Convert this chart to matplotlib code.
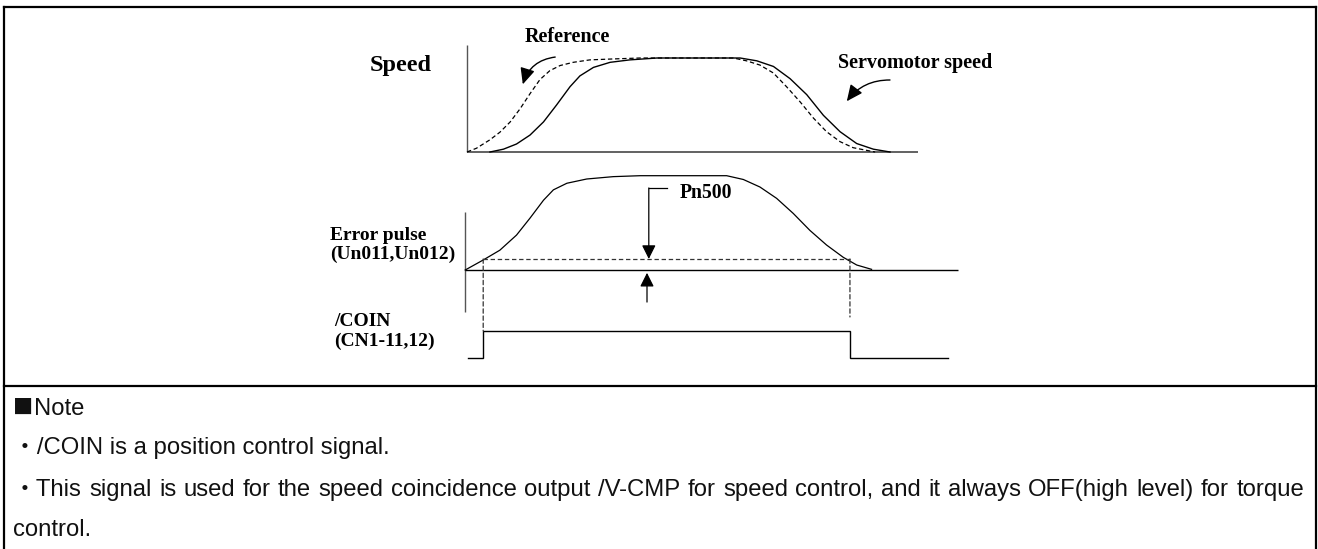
import matplotlib
matplotlib.use("Agg")
import matplotlib.pyplot as plt
from matplotlib.patches import ConnectionPatch

W, H = 1318, 549
DPI = 100

# ---- speed profile (normalised speed vs. time) ----
ref_t = [0.0, 2.1, 5.1, 7.3, 9.6, 11.8, 14.0, 16.2, 18.4, 20.7, 23.6, 27.3, 32.5, 38.5,
         59.2, 62.1, 65.1, 68.1, 71.0, 74.0, 77.0, 79.9, 82.9, 85.8, 89.6, 90.7]
ref_v = [0.0, 0.04, 0.13, 0.21, 0.32, 0.46, 0.62, 0.77, 0.865, 0.92, 0.954, 0.98, 0.99, 1.0,
         1.0, 0.97, 0.925, 0.84, 0.695, 0.535, 0.36, 0.216, 0.11, 0.046, 0.01, 0.0]

motor_t = [5.1, 8.1, 11.0, 14.0, 17.0, 19.9, 22.9, 25.1, 28.1, 31.8, 36.2, 42.2,
           60.7, 64.4, 68.1, 71.8, 75.5, 79.2, 82.9, 86.6, 90.3, 94.0]
motor_v = [0.0, 0.03, 0.085, 0.18, 0.32, 0.5, 0.695, 0.81, 0.90, 0.954, 0.98, 1.0,
           1.0, 0.97, 0.91, 0.78, 0.61, 0.39, 0.216, 0.09, 0.03, 0.0]

# ---- position error pulses (normalised) ----
err_t = [-0.4, 3.6, 7.3, 11.0, 14.0, 17.0, 19.2, 22.2, 26.6, 32.5, 38.5,
         57.7, 61.4, 65.1, 68.8, 72.5, 76.2, 79.9, 83.6, 86.6, 89.9]
err_v = [0.0, 0.106, 0.21, 0.37, 0.55, 0.74, 0.85, 0.92, 0.965, 0.99, 1.0,
         1.0, 0.96, 0.88, 0.76, 0.60, 0.42, 0.265, 0.135, 0.053, 0.007]

# positioning completed width (Pn500) and /COIN output
pn500 = 0.117
coin_on_t = 3.6
coin_off_t = 85.1
coin_t = [0.2, coin_on_t, coin_on_t, coin_off_t, coin_off_t, 106.9]
coin_v = [0, 0, 1, 1, 0, 0]

speed_label = "Speed"
ref_label = "Reference"
motor_label = "Servomotor speed"
err_label = ["Error pulse", "(Un011,Un012)"]
coin_label = ["/COIN", "(CN1-11,12)"]
pn_label = "Pn500"
note_mark = "\u25a0"
note_title = "Note"
note_item1 = "\u30fb/COIN is a position control signal."
note_item2 = ("\u30fbThis signal is used for the speed coincidence output /V-CMP for speed "
              "control, and it always OFF(high level) for torque")
note_item2_tail = "control."

fig = plt.figure(figsize=(W / DPI, H / DPI), dpi=DPI)
fig.patch.set_facecolor("white")

T0_PX = 467.0   # pixel column of t = 0
T_SCALE = 4.5   # pixels per time unit


def lane_axes(x0, y0, x1, y1, zero_px, unit_px):
    """Axes over a pixel box (top-left origin) with a time x-axis and a value y-axis."""
    ax = fig.add_axes([x0 / W, 1 - y1 / H, (x1 - x0) / W, (y1 - y0) / H])
    ax.set_xlim((x0 - T0_PX) / T_SCALE, (x1 - T0_PX) / T_SCALE)
    ax.set_ylim((zero_px - y1) / unit_px, (zero_px - y0) / unit_px)
    ax.set_axis_off()
    return ax


axis_col = "#555555"
serif_bold = dict(family="Liberation Serif", fontweight="bold", color="black")
dash = (0, (3.5, 2.2))

# ---------------- speed ----------------
ax_s = lane_axes(440, 30, 975, 160, 152, 94)
ax_s.plot([0, 0], [0, 1.14], color=axis_col, lw=1.0, solid_capstyle="butt")
ax_s.plot([0, 100.2], [0, 0], color=axis_col, lw=1.3, solid_capstyle="butt")
ax_s.plot(ref_t, ref_v, color="black", lw=0.9, ls=dash)
ax_s.plot(motor_t, motor_v, color="black", lw=1.0)

arrow_kw = dict(arrowstyle="-|>,head_length=0.7,head_width=0.32", color="black",
                lw=1.0, mutation_scale=14, shrinkA=0, shrinkB=0)
ax_s.annotate("", xy=(12.4, 0.72), xytext=(19.6, 1.01),
              arrowprops=dict(connectionstyle="arc3,rad=0.32", **arrow_kw))
ax_s.annotate("", xy=(84.4, 0.54), xytext=(94.0, 0.766),
              arrowprops=dict(connectionstyle="arc3,rad=0.25", **arrow_kw))

# ---------------- error pulses ----------------
ax_e = lane_axes(440, 160, 975, 320, 270, 94.3)
ax_e.plot([-0.4, -0.4], [0.615, -0.445], color=axis_col, lw=1.0, solid_capstyle="butt")
ax_e.plot([-0.4, 109.1], [0, 0], color="black", lw=1.0, solid_capstyle="butt")
ax_e.plot(err_t, err_v, color="black", lw=0.9)
ax_e.plot([coin_on_t, coin_off_t], [pn500, pn500], color="#333333", lw=0.9, ls=dash)

# Pn500 width markers
ax_e.plot([40.4, 44.4], [0.87, 0.87], color="black", lw=0.9)
head_kw = dict(arrowstyle="-|>,head_length=0.6,head_width=0.3", color="black",
               lw=0.9, mutation_scale=14, shrinkA=0, shrinkB=0)
ax_e.annotate("", xy=(40.4, pn500), xytext=(40.4, 0.87), arrowprops=head_kw)
ax_e.annotate("", xy=(40.0, -0.03), xytext=(40.0, -0.34), arrowprops=head_kw)

# ---------------- /COIN ----------------
ax_c = lane_axes(440, 320, 975, 372, 358, 27)
ax_c.plot(coin_t, coin_v, color="black", lw=1.0, solid_joinstyle="miter")

# dashed guides from the Pn500 band down to the /COIN edges
for t_edge, end_v in [(coin_on_t, 1.0), (coin_off_t, 1.52)]:
    con = ConnectionPatch(xyA=(t_edge, pn500), coordsA=ax_e.transData,
                          xyB=(t_edge, end_v), coordsB=ax_c.transData,
                          color="#333333", lw=0.9, ls=dash)
    fig.add_artist(con)


# ---------------- labels ----------------
def ftext(x, y, s, **kw):
    return fig.text(x / W, 1 - y / H, s, va="center", ha="left", **kw)


ftext(370, 66, speed_label, fontsize=17.5, **serif_bold)
ftext(525, 37, ref_label, fontsize=14.5, **serif_bold)
ftext(838, 63, motor_label, fontsize=14.5, **serif_bold)
ftext(680, 193, pn_label, fontsize=14.2, **serif_bold)
ftext(330, 235, err_label[0], fontsize=14.0, **serif_bold)
ftext(330, 254, err_label[1], fontsize=14.0, **serif_bold)
ftext(334, 322, coin_label[0], fontsize=14.0, **serif_bold)
ftext(334, 341, coin_label[1], fontsize=14.0, **serif_bold)

note_kw = dict(fontsize=17.2, family=["Liberation Sans", "Noto Sans CJK JP", "DejaVu Sans"],
               color="#111111")
NOTE_LEFT, NOTE_RIGHT = 13, 1304
renderer = fig.canvas.get_renderer()

# heading: a full-width square bullet followed by the title
mark = ftext(NOTE_LEFT, 408, note_mark, fontsize=14.5,
             family=["Noto Sans CJK JP", "DejaVu Sans"], color="#111111")
mark_w = mark.get_window_extent(renderer).width
ftext(NOTE_LEFT + mark_w + 0.5, 409, note_title, **note_kw)

ftext(NOTE_LEFT, 448, note_item1, **note_kw)
ftext(NOTE_LEFT, 530, note_item2_tail, **note_kw)

# justified paragraph line: spread the words across the full text width
words = note_item2.split(" ")
word_texts = [ftext(NOTE_LEFT, 490, w, **note_kw) for w in words]
widths = [t.get_window_extent(renderer).width for t in word_texts]
gap = (NOTE_RIGHT - NOTE_LEFT - sum(widths)) / (len(words) - 1)
x = NOTE_LEFT
for t, w in zip(word_texts, widths):
    t.set_x(x / W)
    x += w + gap

# ---------------- outer frame ----------------
ax_f = fig.add_axes([0, 0, 1, 1], zorder=-1)
ax_f.set_xlim(0, W)
ax_f.set_ylim(H, 0)
ax_f.set_axis_off()
frame_kw = dict(color="black", lw=1.6, solid_capstyle="projecting")
ax_f.plot([3.5, 3.5], [7, H + 5], **frame_kw)
ax_f.plot([1315.5, 1315.5], [7, H + 5], **frame_kw)
ax_f.plot([3.5, 1315.5], [7, 7], **frame_kw)
ax_f.plot([3.5, 1315.5], [386, 386], **frame_kw)

fig.savefig("out.png", dpi=DPI, facecolor="white")
